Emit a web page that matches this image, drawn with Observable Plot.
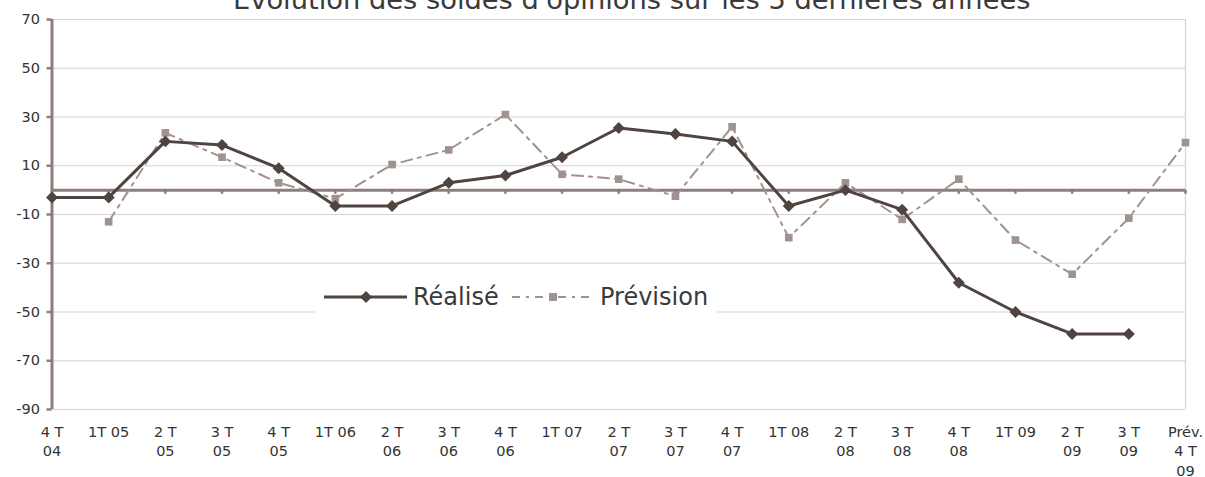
<!DOCTYPE html>
<html><head><meta charset="utf-8">
<script src="https://cdn.jsdelivr.net/npm/d3@7"></script>
<script src="https://cdn.jsdelivr.net/npm/@observablehq/plot@0.6"></script>
<style>
body{margin:0;background:#fff;overflow:hidden}
#wrap{position:relative;width:1205px;height:477px}
#legend{position:absolute;left:315px;top:281px;width:402px;height:33px;background:#fff;font-family:"DejaVu Sans",sans-serif;font-size:24px;color:#3a3a3a;}
#legend span{position:absolute;top:0;line-height:33px;white-space:nowrap}
#legend svg{position:absolute;left:0;top:0}
</style></head><body><div id="wrap"><div id="chart"></div><div id="legend"></div></div>
<script>
const categories = ["4 T\n04","1T 05","2 T\n05","3 T\n05","4 T\n05","1T 06","2 T\n06","3 T\n06","4 T\n06","1T 07","2 T\n07","3 T\n07","4 T\n07","1T 08","2 T\n08","3 T\n08","4 T\n08","1T 09","2 T\n09","3 T\n09","Prév.\n4 T\n09"];
const realise   = [-3, -3, 20, 18.5, 9, -6.5, -6.5, 3, 6, 13.5, 25.5, 23, 20, -6.5, 0, -8, -38, -50, -59, -59, null];
const prevision = [null, -13, 23.5, 13.5, 3, -3.5, 10.5, 16.5, 31, 6.5, 4.5, -2.5, 26, -19.5, 3, -12, 4.5, -20.5, -34.5, -11.5, 19.5];
const yTicks = [70, 50, 30, 10, -10, -30, -50, -70, -90];
const title = "Evolution des soldes d'opinions sur les 5 dernières années";
const seriesNames = ["Réalisé", "Prévision"];

const cDark = "#4f4440", cLight = "#a0928e", cAxis = "#8c7f7b", cGrid = "#d9d2cf";
const rows = categories.map((c, i) => ({cat: c, realise: realise[i], prevision: prevision[i]}));

const chart = Plot.plot({
  width: 1205, height: 477,
  marginLeft: 51.5, marginRight: 20, marginTop: 19, marginBottom: 68,
  x: {type: "point", domain: categories, padding: 0, round: false, axis: null},
  y: {domain: [-90, 70], axis: null},
  style: {fontFamily: "'DejaVu Sans', sans-serif", fontSize: "14.5px", background: "#fff", overflow: "visible"},
  marks: [
    Plot.ruleY(yTicks, {stroke: cGrid, strokeWidth: 1.2}),
    Plot.ruleX([categories[categories.length - 1]], {stroke: cGrid, strokeWidth: 1.2}),
    Plot.ruleX([categories[0]], {stroke: cAxis, strokeWidth: 3}),
    Plot.axisY({ticks: yTicks, tickSize: 5, tickPadding: 7, fontSize: 14.5, fill: "#333", stroke: cAxis, strokeWidth: 2.5, label: null, tickFormat: d => String(d)}),
    Plot.ruleY([0], {stroke: cAxis, strokeWidth: 3}),
    Plot.ruleX(categories, {x: d => d, y1: 0, y2: -1.7, stroke: cAxis, strokeWidth: 2.5}),
    Plot.axisX({anchor: "bottom", tickSize: 0, tickPadding: 14, fontSize: 14.5, lineHeight: 1.33, fill: "#333", label: null, tickFormat: d => d}),
    Plot.line(rows, {x: "cat", y: "prevision", stroke: cLight, strokeWidth: 2, strokeDasharray: "11,6,3,6"}),
    Plot.dot(rows, {x: "cat", y: "prevision", symbol: "square", r: 4.3, fill: cLight}),
    Plot.line(rows, {x: "cat", y: "realise", stroke: cDark, strokeWidth: 3}),
    Plot.dot(rows, {x: "cat", y: "realise", symbol: "diamond2", r: 5.4, fill: cDark}),
    Plot.text([title], {frameAnchor: "top", dx: 13, dy: -10.5, lineAnchor: "bottom", fontSize: 27.3, fontFamily: "'DejaVu Sans', sans-serif", fill: "#3a3a3a"})
  ]
});
document.getElementById("chart").appendChild(chart);

const lg = document.getElementById("legend");
lg.innerHTML = `
<svg width="402" height="33">
  <line x1="9" x2="92" y1="16" y2="16" stroke="${cDark}" stroke-width="3"/>
  <path d="M51,10 L57,16 L51,22 L45,16 Z" fill="${cDark}"/>
  <line x1="197" x2="278" y1="16" y2="16" stroke="${cLight}" stroke-width="2" stroke-dasharray="8,6,3,6"/>
  <rect x="234" y="12" width="8" height="8" fill="${cLight}"/>
</svg>
<span style="left:98px">${seriesNames[0]}</span>
<span style="left:285px">${seriesNames[1]}</span>`;
</script></body></html>
